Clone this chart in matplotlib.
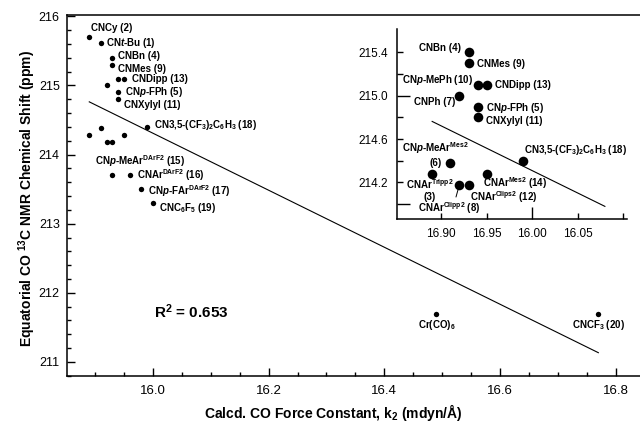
import numpy as np
import matplotlib
matplotlib.use('Agg')
import matplotlib.pyplot as plt
from matplotlib.ticker import MultipleLocator

plt.rcParams['font.family'] = 'Liberation Sans'
plt.rcParams['mathtext.fontset'] = 'custom'
plt.rcParams['mathtext.rm'] = 'Liberation Sans:bold'
plt.rcParams['mathtext.bf'] = 'Liberation Sans:bold'
plt.rcParams['mathtext.it'] = 'Liberation Sans:italic:bold'
plt.rcParams['mathtext.default'] = 'rm'

# compounds, force constant k2 (mdyn/A) and eq. CO 13C shift (ppm)
names = [
    'CNCy (2)',
    r'CN$\mathit{t}$-Bu (1)',
    'CNBn (4)',
    'CNMes (9)',
    r'CN$\mathit{p}$-MePh (10)',
    'CNDipp (13)',
    'CNPh (7)',
    r'CN$\mathit{p}$-FPh (5)',
    'CNXylyl (11)',
    r'CNAr$^{\mathrm{Tripp2}}$' + '\n(3)',
    r'CN$\mathit{p}$-MeAr$^{\mathrm{Mes2}}$' + '\n(6)',
    r'CNAr$^{\mathrm{Clipp2}}$ (8)',
    r'CNAr$^{\mathrm{Clips2}}$ (12)',
    r'CNAr$^{\mathrm{Mes2}}$ (14)',
    r'CN3,5-(CF$_3$)$_2$C$_6$H$_3$ (18)',
    r'CN$\mathit{p}$-MeAr$^{\mathrm{DArF2}}$ (15)',
    r'CNAr$^{\mathrm{DArF2}}$ (16)',
    r'CN$\mathit{p}$-FAr$^{\mathrm{DArF2}}$ (17)',
    r'CNC$_6$F$_5$ (19)',
    r'Cr(CO)$_6$',
    r'CNCF$_3$ (20)',
]
k2 = [15.89, 15.91, 15.93, 15.93, 15.94, 15.95, 15.92, 15.94, 15.94,
      15.89, 15.91, 15.92, 15.93, 15.95, 15.99,
      15.93, 15.96, 15.98, 16.00, 16.49, 16.77]
shift = [215.7, 215.61, 215.4, 215.3, 215.1, 215.1, 215.0, 214.9, 214.8,
         214.28, 214.38, 214.18, 214.18, 214.28, 214.4,
         213.7, 213.7, 213.5, 213.3, 211.7, 211.7]

main_xticks = [16.0, 16.2, 16.4, 16.6, 16.8]
main_xticklabels = ['16.0', '16.2', '16.4', '16.6', '16.8']
main_yticks = [211, 212, 213, 214, 215, 216]
inset_idx = [2, 3, 4, 5, 6, 7, 8, 9, 10, 11, 12, 13, 14]
inset_xticks = [15.90, 15.95, 16.00, 16.05, 16.10]
inset_xticklabels = ['16.90', '16.95', '16.00', '16.05', '']
inset_yticks = [214.0, 214.2, 214.4, 214.6, 214.8, 215.0, 215.2, 215.4]
inset_yticklabels = ['', '214.2', '', '214.6', '', '215.0', '', '215.4']
r2_text = r'R$^2$ = 0.653'

# label placement (offset points, ha) for the main plot
main_lab = {0: (1, 6.5, 'left'), 1: (4, 0, 'left'), 2: (4, 1, 'left'),
            3: (4.3, -2.7, 'left'), 5: (5.5, -0.5, 'left'), 7: (5, 0, 'left'),
            8: (4, -4.3, 'left'), 14: (4.8, 1.2, 'left'),
            15: (-12.7, 10.4, 'left'), 16: (5, -0.2, 'left'),
            17: (4.8, -1.4, 'left'), 18: (4.3, -3.6, 'left'),
            19: (0, -8.6, 'center'), 20: (0, -8.6, 'center')}
inset_lab = {2: (-5.5, 2.9, 'right'), 3: (6, -0.7, 'left'),
             4: (-3.3, 3.6, 'right'), 5: (6, 0, 'left'),
             6: (-2.9, -4.8, 'right'), 7: (6.3, -0.7, 'left'),
             8: (6.3, -2.4, 'left'), 14: (1, 7.7, 'left'),
             10: (-10.7, 6.3, 'center'), 9: (-2, -11.3, 'center'),
             11: (-30, -16.6, 'left'), 12: (1.2, -9.0, 'left'),
             13: (-2.4, -6.4, 'left')}

fit = np.polyfit(k2, shift, 1)

fig = plt.figure(figsize=(6.4, 4.25), dpi=100)
ax = fig.add_axes([66.7 / 640, 49.3 / 425, 1 - 66.7 / 640, 360.7 / 425])
ax.scatter(k2, shift, s=15, color='black', zorder=3, linewidths=0)
xs = np.array([min(k2), max(k2)])
ax.plot(xs, np.polyval(fit, xs), color='black', lw=0.8)
ax.set_xlim(15.851, 16.842)
ax.set_ylim(210.8, 216.02)
ax.set_xticks(main_xticks, labels=main_xticklabels)
ax.set_yticks(main_yticks, labels=[str(v) for v in main_yticks])
ax.xaxis.set_minor_locator(MultipleLocator(0.05))
ax.yaxis.set_minor_locator(MultipleLocator(0.2))
ax.tick_params(which='both', direction='in', width=1.0, top=False, right=False)
ax.tick_params(which='major', length=6)
ax.tick_params(which='minor', length=3)
ax.tick_params(axis='x', pad=7, labelsize=9.5)
ax.tick_params(axis='y', pad=5, labelsize=9)
ax.spines['right'].set_visible(False)
for s in ['left', 'bottom', 'top']:
    ax.spines[s].set_linewidth(1.1)

ax.set_xlabel(r'Calcd. CO Force Constant, k$_2$ (mdyn/Å)', fontsize=10, fontweight='bold')
ax.xaxis.set_label_coords(0.4645, -0.072)
ax.set_ylabel(r'Equatorial CO $^{13}$C NMR Chemical Shift (ppm)', fontsize=10, fontweight='bold')
ax.yaxis.set_label_coords(-0.05, 0.49)

for i, (dx, dy, ha) in main_lab.items():
    ax.annotate(names[i], (k2[i], shift[i]), xytext=(dx, dy), textcoords='offset points',
                ha=ha, va='center', fontsize=7, fontweight='bold')
ax.text(0.153, 0.177, r2_text, transform=ax.transAxes, fontsize=11, fontweight='bold',
        ha='left', va='center')

# inset
ins = fig.add_axes([396.7 / 640, (425 - 219.3) / 425, 230 / 640, 190.7 / 425])
ins.scatter([k2[i] for i in inset_idx], [shift[i] for i in inset_idx],
            s=48, color='black', zorder=3, linewidths=0)
xi = np.array([min(k2), 16.08])
ins.plot(xi, np.polyval(fit, xi), color='black', lw=0.8)
ins.set_xlim(15.851, 16.104)
ins.set_ylim(213.86, 215.62)
ins.set_xticks(inset_xticks, labels=inset_xticklabels)
ins.set_yticks(inset_yticks, labels=inset_yticklabels)
ins.tick_params(direction='in', width=1.0, length=4.5, labelsize=8.5)
ins.tick_params(axis='x', pad=6)
ins.tick_params(axis='y', pad=6)
for t, v in zip(ins.xaxis.get_major_ticks(), inset_xticks):
    if abs(v - 16.0) < 1e-6:
        t.tick1line.set_markersize(9)
for t, v in zip(ins.yaxis.get_major_ticks(), inset_yticks):
    if abs(v - round(v)) < 1e-6:
        t.tick1line.set_markersize(9)
ins.spines['top'].set_visible(False)
ins.spines['right'].set_visible(False)
for s in ['left', 'bottom']:
    ins.spines[s].set_linewidth(1.1)

for i, (dx, dy, ha) in inset_lab.items():
    kw = {}
    if i == 11:
        kw['arrowprops'] = dict(arrowstyle='-', lw=0.7, color='black', relpos=(0.6, 1.0),
                                shrinkA=0, shrinkB=2)
    ins.annotate(names[i], (k2[i], shift[i]), xytext=(dx, dy), textcoords='offset points',
                 ha=ha, va='center', fontsize=7, fontweight='bold',
                 multialignment='center', **kw)

fig.savefig('out.png', dpi=100)
